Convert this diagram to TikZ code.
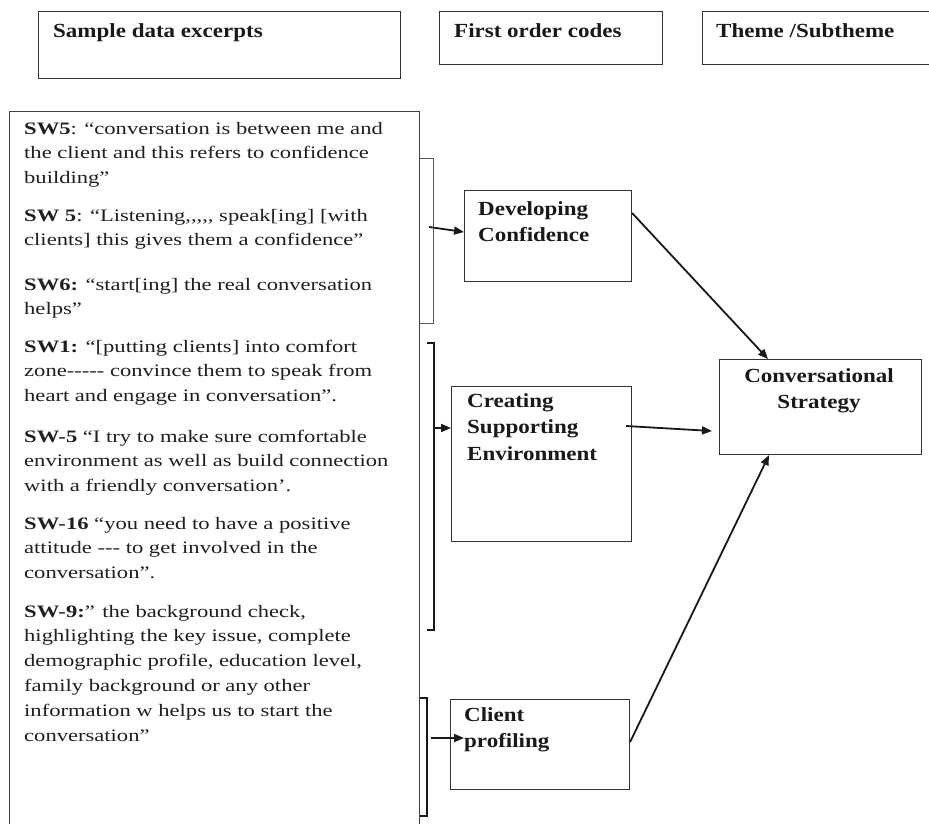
\documentclass[tikz,border=0pt]{standalone}
\usepackage{fontspec}
\setmainfont{Liberation Serif}
\newfontfamily\quotefont[FakeStretch=1.29,Ligatures=TeXOff]{Liberation Serif}
\newfontfamily\headfont[FakeStretch=1.15]{Liberation Serif}
\usetikzlibrary{arrows.meta,calc}

% multi-line nodes are placed by the baseline of their last line
\tikzset{
  frame/.style={draw=black!80, line width=1.1pt, inner sep=0pt, anchor=north west},
  quote/.style={anchor=base west, inner sep=0pt, align=left, text=black!88,
    font=\quotefont\fontsize{17.5}{24.8}\selectfont},
  code/.style={anchor=base west, inner sep=0pt, align=left, text=black!90,
    font=\headfont\bfseries\fontsize{20}{26.5}\selectfont},
  link/.style={line width=1.8pt, draw=black!90, -{Triangle[length=10pt,width=8pt]}},
  bracketline/.style={line width=1.8pt, draw=black!90},
  thinbracket/.style={line width=0.9pt, draw=black!65},
}

\begin{document}
\begin{tikzpicture}[x=1pt, y=-1pt]
\clip (0,0) rectangle (929,823);
\fill[white] (0,0) rectangle (929,823);

% column headers
\node[frame, minimum width=362pt, minimum height=67pt] (hsample) at (38,11) {};
\node[frame, minimum width=223pt, minimum height=53pt] (hcodes) at (439,11) {};
\node[frame, minimum width=240pt, minimum height=53pt] (htheme) at (702,11) {};
\node[code] (tsample) at (53,37) {Sample data excerpts};
\node[code] (tcodes) at (454,37) {First order codes};
\node[code] (ttheme) at (716,37) {Theme /Subtheme};

% box of interview excerpts
\node[frame, draw=black!75, line width=1pt, minimum width=410pt, minimum height=740pt] (excerpts) at (9,111) {};

\node[quote] (p1) at (24,183.6) {\textbf{SW5}: “conversation is between me and\\
the client and this refers to confidence\\
building”};
\node[quote] (p2) at (24,245.8) {\textbf{SW 5}: “Listening,,,,, speak[ing] [with\\
clients] this gives them a confidence”};
\node[quote] (p3) at (24,314.8) {\textbf{SW6:} “start[ing] the real conversation\\
helps”};
\node[quote] (p4) at (24,401.6) {\textbf{SW1:} “[putting clients] into comfort\\
zone----- convince them to speak from\\
heart and engage in conversation”.};
\node[quote] (p5) at (24,491.6) {\textbf{SW-5} “I try to make sure comfortable\\
environment as well as build connection\\
with a friendly conversation’.};
\node[quote] (p6) at (24,578.6) {\textbf{SW-16} “you need to have a positive\\
attitude --- to get involved in the\\
conversation”.};
\node[quote] (p7) at (24,741) {\textbf{SW-9:}” the background check,\\
highlighting the key issue, complete\\
demographic profile, education level,\\
family background or any other\\
information w helps us to start the\\
conversation”};

% first order codes
\node[frame, minimum width=167pt, minimum height=91pt] (dev) at (464,190) {};
\node[code] (tdev) at (478,241.5) {Developing\\Confidence};
\node[frame, minimum width=180pt, minimum height=155pt] (cse) at (451,386) {};
\node[code] (tcse) at (467,460) {Creating\\Supporting\\Environment};
\node[frame, minimum width=179pt, minimum height=90pt] (cli) at (450,699) {};
\node[code] (tcli) at (464,747.5) {Client\\profiling};

% theme
\node[frame, minimum width=202pt, minimum height=95pt] (conv) at (719,359) {};
\node[code, anchor=base, align=center] (tconv) at (819,408.5) {Conversational\\Strategy};

% brackets grouping the excerpts
\coordinate (b1a) at (420,158);
\coordinate (b1b) at (433,158);
\coordinate (b1c) at (433,323);
\coordinate (b1d) at (420,323);
\draw[thinbracket] (b1a) -- (b1b) -- (b1c) -- (b1d);
\coordinate (b2a) at (427,343);
\coordinate (b2b) at (434,343);
\coordinate (b2c) at (434,630);
\coordinate (b2d) at (427,630);
\draw[bracketline] (b2a) -- (b2b) -- (b2c) -- (b2d);
\coordinate (b3a) at (420,698);
\coordinate (b3b) at (427,698);
\coordinate (b3c) at (427,816);
\coordinate (b3d) at (420,816);
\draw[bracketline] (b3a) -- (b3b) -- (b3c) -- (b3d);

% connectors
\coordinate (s1) at (429,227);
\coordinate (s2) at (434,428);
\coordinate (s3) at (431,738);
\draw[link] (s1) -- ($(dev.north west)+(0,42)$);
\draw[link] (s2) -- ($(cse.north west)+(0,42)$);
\draw[link] (s3) -- ($(cli.north west)+(14,39)$);
\draw[link] ($(cse.north east)+(-6,40)$) -- ($(conv.north west)+(-7,72)$);
\draw[link] ($(dev.north east)+(0,23)$) -- ($(conv.north west)+(49,0)$);
\draw[link] ($(cli.north east)+(0,43)$) -- ($(conv.south west)+(50,0)$);
\end{tikzpicture}
\end{document}
